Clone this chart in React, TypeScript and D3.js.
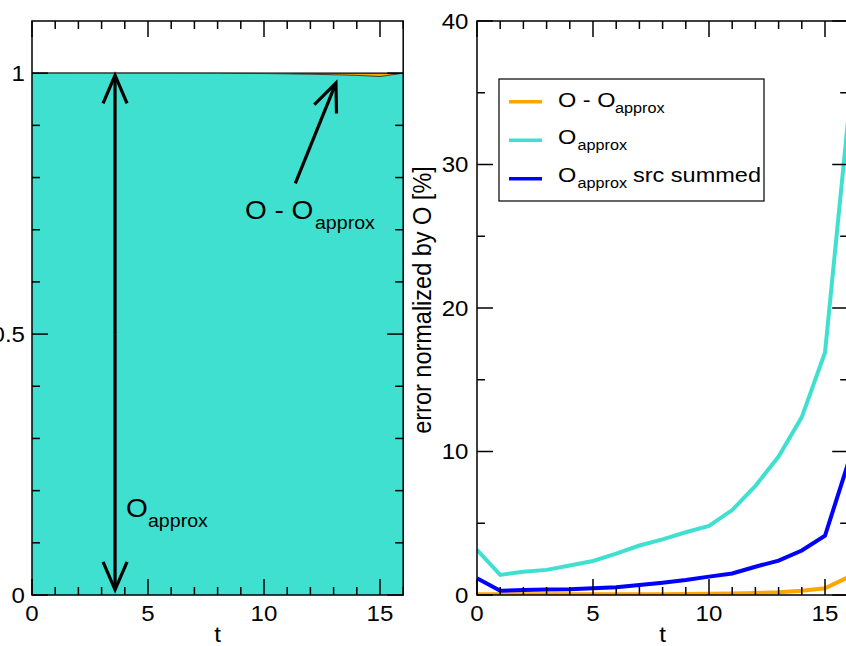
import React from "react";
import * as d3 from "d3";

// time steps
const times = [0, 1, 2, 3, 4, 5, 6, 7, 8, 9, 10, 11, 12, 13, 14, 15, 16];

// left panel: quantities normalized by O
const normTotal = [1, 1, 1, 1, 1, 1, 1, 1, 1, 1, 1, 1, 1, 1, 1, 1, 1];
const normApprox = [1, 1, 1, 1, 1, 1, 1, 0.9999, 0.9998, 0.9996, 0.9993, 0.9987, 0.998, 0.997, 0.9958, 0.9935, 1];

// right panel: errors normalized by O [%]
const errDiff = [0.05, 0.05, 0.05, 0.05, 0.05, 0.05, 0.05, 0.06, 0.06, 0.07, 0.08, 0.1, 0.14, 0.2, 0.3, 0.47, 1.24];
const errApprox = [3.15, 1.4, 1.62, 1.75, 2.05, 2.37, 2.88, 3.45, 3.88, 4.37, 4.82, 5.92, 7.6, 9.65, 12.4, 16.9, 33.2];
const errSummed = [1.16, 0.3, 0.35, 0.38, 0.4, 0.47, 0.54, 0.7, 0.86, 1.05, 1.28, 1.5, 1.97, 2.4, 3.1, 4.13, 9.2];

const xTicksMajor = [0, 5, 10, 15];
const leftYTicks = [0, 0.5, 1];
const leftYLabels = ["0", "0.5", "1"];
const rightYTicks = [0, 10, 20, 30, 40];

const legendNames = ["O - O", "O", "O"];
const legendSuffix = ["", "", "src summed"];
const seriesColors = ["#FFA500", "#40E0D0", "#0000FF"];

const FONT = "'Liberation Sans', Arial, Helvetica, sans-serif";
const SX = 1.12;

const TOP = 21;
const BOTTOM = 595;

function SText({ x, y, anchor = "start", size = 21.5, children }: any) {
  return (
    <text
      transform={`translate(${x},${y}) scale(${SX},1)`}
      textAnchor={anchor}
      fontSize={size}
      fontFamily={FONT}
      fill="#000"
    >
      {children}
    </text>
  );
}

function Frame({ x, y, xMinor, yMinor, yMajor }: any) {
  const [x0, x1] = x.range();
  const els: any[] = [];
  const xm = d3.range(0, 17, 1);
  xm.forEach((v) => {
    const major = v % xMinor === 0;
    const len = major ? 16 : 8;
    const px = x(v);
    els.push(<line key={`xb${v}`} x1={px} x2={px} y1={BOTTOM} y2={BOTTOM - len} />);
    els.push(<line key={`xt${v}`} x1={px} x2={px} y1={TOP} y2={TOP + len} />);
  });
  yMinor.forEach((v: number, i: number) => {
    const major = yMajor.some((m: number) => Math.abs(m - v) < 1e-9);
    const len = major ? 16 : 8;
    const py = y(v);
    els.push(<line key={`yl${i}`} x1={x0} x2={x0 + len} y1={py} y2={py} />);
    els.push(<line key={`yr${i}`} x1={x1} x2={x1 - len} y1={py} y2={py} />);
  });
  return (
    <g stroke="#000" strokeWidth={1.5} fill="none">
      {els}
      <rect x={x0} y={TOP} width={x1 - x0} height={BOTTOM - TOP} />
    </g>
  );
}

function Arrow({ x1, y1, x2, y2, head = 28, half = 12, sw = 3.2 }: any) {
  const dx = x2 - x1;
  const dy = y2 - y1;
  const L = Math.hypot(dx, dy);
  const ux = dx / L;
  const uy = dy / L;
  const bx = x2 - ux * head;
  const by = y2 - uy * head;
  const px = -uy;
  const py = ux;
  const d = `M${bx + px * half},${by + py * half} L${x2},${y2} L${bx - px * half},${by - py * half}`;
  return (
    <g stroke="#000" strokeWidth={sw} fill="none">
      <line x1={x1} y1={y1} x2={x2} y2={y2} />
      <path d={d} strokeLinejoin="miter" />
    </g>
  );
}

export default function App() {
  // left panel scales
  const xL = d3.scaleLinear().domain([0, 16]).range([32, 403.2]);
  const yL = d3.scaleLinear().domain([0, 1.1]).range([BOTTOM, TOP]);
  // right panel scales
  const xR = d3.scaleLinear().domain([0, 16]).range([477, 848.2]);
  const yR = d3.scaleLinear().domain([0, 40]).range([BOTTOM, TOP]);

  const areaTotal = d3
    .area<number>()
    .x((_, i) => xL(times[i]))
    .y0(yL(0))
    .y1((d) => yL(d))(normTotal);
  const areaApprox = d3
    .area<number>()
    .x((_, i) => xL(times[i]))
    .y0(yL(0))
    .y1((d) => yL(d))(normApprox);
  const lineL = d3
    .line<number>()
    .x((_, i) => xL(times[i]))
    .y((d) => yL(d));

  const lineR = d3
    .line<number>()
    .x((_, i) => xR(times[i]))
    .y((d) => yR(d));
  const rightSeries = [errDiff, errApprox, errSummed];

  const leftYMinor = d3.range(0, 11).map((i) => i / 10);
  const rightYMinor = d3.range(0, 9).map((i) => i * 5);

  // arrow geometry in data coordinates
  const vArrowT = 3.58;
  const a2 = { t0: 11.35, v0: 0.789, t1: 13.1, v1: 0.981 };

  return (
    <svg
      width={846}
      height={646}
      style={{ position: "absolute", left: 0, top: 0, background: "#fff" }}
    >
      <defs>
        <clipPath id="clipL">
          <rect x={xL(0)} y={TOP} width={xL(16) - xL(0)} height={BOTTOM - TOP} />
        </clipPath>
        <clipPath id="clipR">
          <rect x={xR(0)} y={TOP} width={xR(16) - xR(0)} height={BOTTOM - TOP} />
        </clipPath>
      </defs>
      <rect x={0} y={0} width={846} height={646} fill="#fff" />

      {/* left panel: stacked normalized fractions */}
      <g clipPath="url(#clipL)">
        <path d={areaTotal || ""} fill="#FFA500" />
        <path d={lineL(normTotal) || ""} fill="none" stroke="#000" strokeWidth={1.2} />
        <path d={areaApprox || ""} fill="#40E0D0" />
        <path d={lineL(normApprox) || ""} fill="none" stroke="#222" strokeWidth={0.8} />
      </g>

      <Arrow x1={xL(vArrowT)} y1={yL(0.5)} x2={xL(vArrowT)} y2={yL(0.996)} />
      <Arrow x1={xL(vArrowT)} y1={yL(0.5)} x2={xL(vArrowT)} y2={yL(0.01)} />
      <Arrow x1={xL(a2.t0)} y1={yL(a2.v0)} x2={xL(a2.t1)} y2={yL(a2.v1)} />

      <g>
        <SText x={xL(9.18)} y={yL(0.72)} size={25}>
          O - O
        </SText>
        <SText x={xL(9.18) + 70} y={yL(0.72) + 10} size={17.5}>
          approx
        </SText>
        <SText x={xL(4.05)} y={yL(0.149)} size={25}>
          O
        </SText>
        <SText x={xL(4.05) + 22} y={yL(0.149) + 10} size={17.5}>
          approx
        </SText>
      </g>

      <Frame x={xL} y={yL} xMinor={5} yMinor={leftYMinor} yMajor={leftYTicks} />

      {xTicksMajor.map((v) => (
        <SText key={`lx${v}`} x={xL(v)} y={620.5} anchor="middle">
          {v}
        </SText>
      ))}
      {leftYTicks.map((v, i) => (
        <SText key={`ly${v}`} x={25} y={yL(v) + 7.5} anchor="end">
          {leftYLabels[i]}
        </SText>
      ))}
      <SText x={xL(8)} y={642} anchor="middle">
        t
      </SText>

      {/* right panel: error curves */}
      <g clipPath="url(#clipR)" fill="none" strokeWidth={4}>
        {rightSeries.map((s, i) => (
          <path key={`s${i}`} d={lineR(s) || ""} stroke={seriesColors[i]} />
        ))}
      </g>

      <Frame x={xR} y={yR} xMinor={5} yMinor={rightYMinor} yMajor={rightYTicks} />

      {xTicksMajor.map((v) => (
        <SText key={`rx${v}`} x={xR(v)} y={620.5} anchor="middle">
          {v}
        </SText>
      ))}
      {rightYTicks.map((v) => (
        <SText key={`ry${v}`} x={468.5} y={yR(v) + 7.5} anchor="end">
          {v}
        </SText>
      ))}
      <SText x={xR(8)} y={642} anchor="middle">
        t
      </SText>
      <text
        transform={`translate(431,300) rotate(-90) scale(1,${SX})`}
        textAnchor="middle"
        fontSize={23.5}
        fontFamily={FONT}
      >
        error normalized by O [%]
      </text>

      {/* legend */}
      <g>
        <rect x={499} y={79} width={265} height={122} fill="#fff" stroke="#000" strokeWidth={1.2} />
        {legendNames.map((name, i) => {
          const yl = 101.7 + i * 38.5;
          const base = 106.5 + i * 37.5;
          return (
            <g key={`lg${i}`}>
              <line x1={509} x2={542} y1={yl} y2={yl} stroke={seriesColors[i]} strokeWidth={3.5} />
              <SText x={558} y={base} size={21}>
                {name}
              </SText>
              <SText x={558 + (i === 0 ? 57 : 19.5)} y={base + 6} size={14.5}>
                approx
              </SText>
              {legendSuffix[i] && (
                <SText x={633} y={base} size={21}>
                  {legendSuffix[i]}
                </SText>
              )}
            </g>
          );
        })}
      </g>
    </svg>
  );
}
